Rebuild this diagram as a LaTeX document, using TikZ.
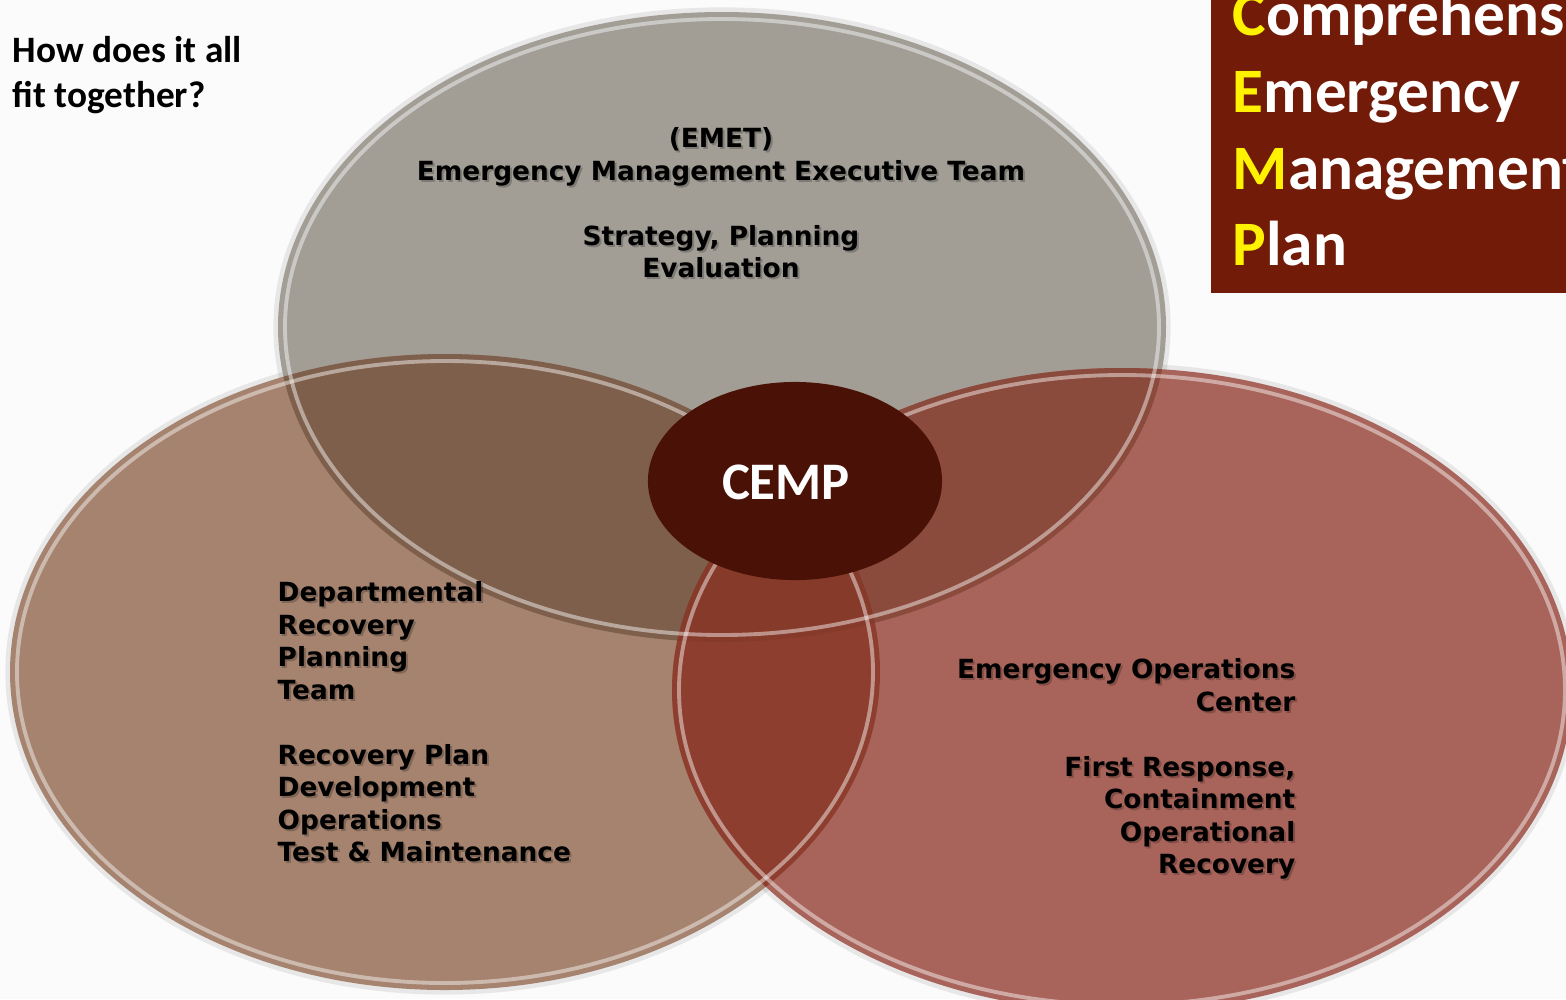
\documentclass[tikz,border=0pt]{standalone}
\usepackage{fontspec}
\setmainfont{DejaVu Sans}
\newfontfamily\calibri{Carlito}
\usetikzlibrary{shapes.geometric}

\definecolor{bggray}{HTML}{FBFBFB}
\definecolor{emetgray}{HTML}{A29E96}
\definecolor{recovtan}{HTML}{A5836F}
\definecolor{eocred}{HTML}{A8645A}
\definecolor{tlmix}{HTML}{7E5F4B}
\definecolor{trmix}{HTML}{8A4A3C}
\definecolor{lrmix}{HTML}{8E3E2E}
\definecolor{allmix}{HTML}{863A2A}
\definecolor{cempdark}{HTML}{4A1206}
\definecolor{boxred}{HTML}{721B08}

\tikzset{
  venntext/.style={font=\bfseries\fontsize{7.5}{9.25}\selectfont, text=black, inner sep=0pt},
  vennshadow/.style={venntext, text opacity=0.22},
  boxline/.style={font=\calibri\bfseries\fontsize{18}{22}\selectfont, text=white, anchor=base west, inner sep=0pt},
  rim/.style={draw=white, draw opacity=0.45, line width=1.1pt},
  halo/.style={draw=black, draw opacity=0.08, line width=1.5pt},
}

\begin{document}
\begin{tikzpicture}[x=0.01cm,y=-0.01cm]
  \fill[bggray] (0,0) rectangle (1566,999);
  \useasboundingbox (0,0) rectangle (1566,999);

  % soft edges
  \draw[halo] (722,327) ellipse (446 and 317);
  \draw[halo] (445,672) ellipse (437 and 320);
  \draw[halo] (1122,690) ellipse (452 and 324);

  % the three sets
  \fill[emetgray] (722,327) ellipse (444 and 315);
  \fill[recovtan] (445,672) ellipse (435 and 318);
  \fill[eocred] (1122,690) ellipse (450 and 322);

  % overlaps
  \begin{scope}
    \clip (722,327) ellipse (444 and 315);
    \fill[tlmix] (445,672) ellipse (435 and 318);
    \fill[trmix] (1122,690) ellipse (450 and 322);
  \end{scope}
  \begin{scope}
    \clip (445,672) ellipse (435 and 318);
    \fill[lrmix] (1122,690) ellipse (450 and 322);
    \clip (722,327) ellipse (444 and 315);
    \fill[allmix] (1122,690) ellipse (450 and 322);
  \end{scope}

  % rims
  \draw[rim] (722,327) ellipse (437 and 308);
  \draw[rim] (445,672) ellipse (428 and 311);
  \draw[rim] (1122,690) ellipse (443 and 315);

  % centre
  \node[ellipse, fill=cempdark, minimum width=2.94cm, minimum height=1.98cm] (cemp) at (795,481) {};
  \node[text=white, inner sep=0pt, font=\calibri\bfseries\fontsize{15}{16}\selectfont] (cemplabel) at (786,482) {CEMP};

  % set labels (shadow first)
  \node[vennshadow, anchor=north, align=center] (emetshade) at (723,129)
    {(EMET)\\Emergency Management Executive Team\\[9.25pt]Strategy, Planning\\Evaluation};
  \node[venntext, anchor=north, align=center] (emet) at (721,127)
    {(EMET)\\Emergency Management Executive Team\\[9.25pt]Strategy, Planning\\Evaluation};
  \node[vennshadow, anchor=north west, align=left] (drptshade) at (279,583)
    {Departmental\\Recovery\\Planning\\Team\\[9.25pt]Recovery Plan\\Development\\Operations\\Test \& Maintenance};
  \node[venntext, anchor=north west, align=left] (drpt) at (277,581)
    {Departmental\\Recovery\\Planning\\Team\\[9.25pt]Recovery Plan\\Development\\Operations\\Test \& Maintenance};
  \node[vennshadow, anchor=north east, align=right] (eocshade) at (1298,660)
    {Emergency Operations\\Center\\[9.25pt]First Response,\\Containment\\Operational\\Recovery};
  \node[venntext, anchor=north east, align=right] (eoc) at (1296,658)
    {Emergency Operations\\Center\\[9.25pt]First Response,\\Containment\\Operational\\Recovery};

  % title
  \node[anchor=north west, align=left, inner sep=0pt,
        font=\calibri\bfseries\fontsize{10.6}{12.8}\selectfont] (title) at (12,36)
    {How does it all\\fit together?};

  % acronym box
  \fill[boxred] (1211,0) rectangle (1566,293);
  \begin{scope}
    \clip (1211,0) rectangle (1566,293);
    \node[boxline] (lineC) at (1232,35) {{\color{yellow}C}omprehensive};
    \node[boxline] (lineE) at (1232,112) {{\color{yellow}E}mergency};
    \node[boxline] (lineM) at (1232,189) {{\color{yellow}M}anagement};
    \node[boxline] (lineP) at (1232,265) {{\color{yellow}P}lan};
  \end{scope}
\end{tikzpicture}
\end{document}
